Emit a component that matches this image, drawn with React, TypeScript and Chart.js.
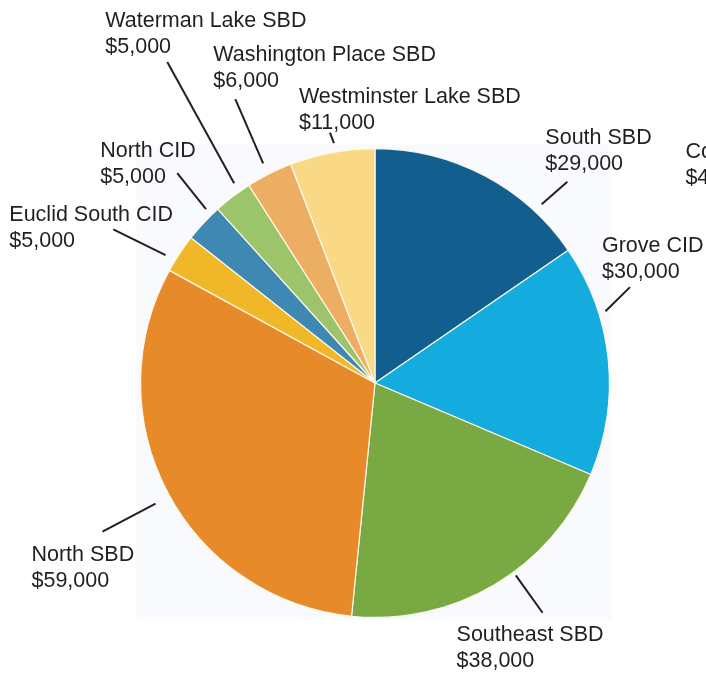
import React, { useEffect, useRef } from "react";
import { Chart, registerables } from "chart.js";

Chart.register(...registerables);

const categories = [
  "South SBD",
  "Grove CID",
  "Southeast SBD",
  "North SBD",
  "Euclid South CID",
  "North CID",
  "Waterman Lake SBD",
  "Washington Place SBD",
  "Westminster Lake SBD",
];

const amounts = [29000, 30000, 38000, 59000, 5000, 5000, 5000, 6000, 11000];

const sliceColors = [
  "#125e8f",
  "#14abde",
  "#79a943",
  "#e78a2a",
  "#f0b828",
  "#4088b4",
  "#9cc46b",
  "#ebae62",
  "#f9d986",
];

// Partially visible label cut off at the right edge of the reference
const clippedLabelLines = ["Co", "$4"];

// Leader line layout: angle (deg clockwise from top) and distance beyond the pie radius,
// text offset relative to the outer end of the leader line.
const leaderLayout = [
  { a1: 43.0, d1: 10, a2: 43.7, d2: 44, tx: -22, ty: -38 },
  { a1: 72.7, d1: 7, a2: 69.4, d2: 38, tx: -28, ty: -35 },
  { a1: 143.8, d1: 4, a2: 143.9, d2: 50, tx: -86, ty: 28 },
  { a1: 241.2, d1: 16, a2: 241.4, d2: 76, tx: -71, ty: 29 },
  { a1: 301.4, d1: 11, a2: 300.4, d2: 69, tx: -104, ty: -8 },
  { a1: 315.8, d1: 8, a2: 316.7, d2: 54, tx: -77, ty: -16 },
  { a1: 324.8, d1: 10, a2: 327.1, d2: 148, tx: -62, ty: -35 },
  { a1: 333.0, d1: 12, a2: 333.8, d2: 82, tx: -22, ty: -38 },
  { a1: 350.3, d1: 9, a2: 349.8, d2: 20, tx: -31, ty: -30 },
];

const FONT = "21.5px 'Liberation Sans', Arial, Helvetica, sans-serif";
const TEXT_COLOR = "#231f20";
const LINE_HEIGHT = 26;

const fmt = (v: number) => "$" + v.toLocaleString("en-US");

const labelPlugin = {
  id: "pieLabels",
  beforeDatasetsDraw(chart: any) {
    const meta = chart.getDatasetMeta(0);
    const arc = meta.data[0];
    if (!arc) return;
    const { x, y, outerRadius } = arc.getProps(["x", "y", "outerRadius"], true);
    const ctx = chart.ctx;
    ctx.save();
    ctx.fillStyle = "#f9fafd";
    ctx.fillRect(x - outerRadius - 4, y - outerRadius - 4, 2 * outerRadius + 6, 2 * outerRadius + 6);
    ctx.restore();
  },
  afterDatasetsDraw(chart: any) {
    const meta = chart.getDatasetMeta(0);
    const arc = meta.data[0];
    if (!arc) return;
    const { x, y, outerRadius } = arc.getProps(["x", "y", "outerRadius"], true);
    const ctx = chart.ctx;
    ctx.save();
    ctx.font = FONT;
    ctx.fillStyle = TEXT_COLOR;
    ctx.strokeStyle = TEXT_COLOR;
    ctx.lineWidth = 2;
    ctx.textAlign = "left";
    ctx.textBaseline = "alphabetic";
    const pt = (deg: number, r: number) => {
      const t = (deg * Math.PI) / 180;
      return [x + r * Math.sin(t), y - r * Math.cos(t)];
    };
    categories.forEach((name, i) => {
      const L = leaderLayout[i];
      const [x1, y1] = pt(L.a1, outerRadius + L.d1);
      const [x2, y2] = pt(L.a2, outerRadius + L.d2);
      ctx.beginPath();
      ctx.moveTo(x1, y1);
      ctx.lineTo(x2, y2);
      ctx.stroke();
      const tx = x2 + L.tx;
      const ty = y2 + L.ty;
      ctx.fillText(name, tx, ty);
      ctx.fillText(fmt(amounts[i]), tx, ty + LINE_HEIGHT);
    });
    // clipped label at right edge
    const cx0 = x + outerRadius + 76;
    const cy0 = y - outerRadius + 9;
    clippedLabelLines.forEach((s, k) => ctx.fillText(s, cx0, cy0 + k * LINE_HEIGHT));
    ctx.restore();
  },
};

export default function App() {
  const ref = useRef<HTMLCanvasElement | null>(null);
  useEffect(() => {
    if (!ref.current) return;
    const chart = new Chart(ref.current, {
      type: "pie",
      data: {
        labels: categories,
        datasets: [
          {
            data: amounts,
            backgroundColor: sliceColors,
            borderColor: "rgba(255,250,236,0.95)",
            borderWidth: 1.2,
          },
        ],
      },
      options: {
        responsive: false,
        animation: false,
        layout: { padding: { left: 140, right: 96, top: 148, bottom: 55 } },
        plugins: {
          legend: { display: false },
          tooltip: { enabled: false },
          title: { display: false },
        },
      },
      plugins: [labelPlugin],
    });
    return () => chart.destroy();
  }, []);
  return (
    <div style={{ position: "fixed", left: 0, top: 0, width: 706, height: 673, background: "#ffffff", overflow: "hidden" }}>
      <canvas ref={ref} width={706} height={673} style={{ display: "block" }} />
    </div>
  );
}
